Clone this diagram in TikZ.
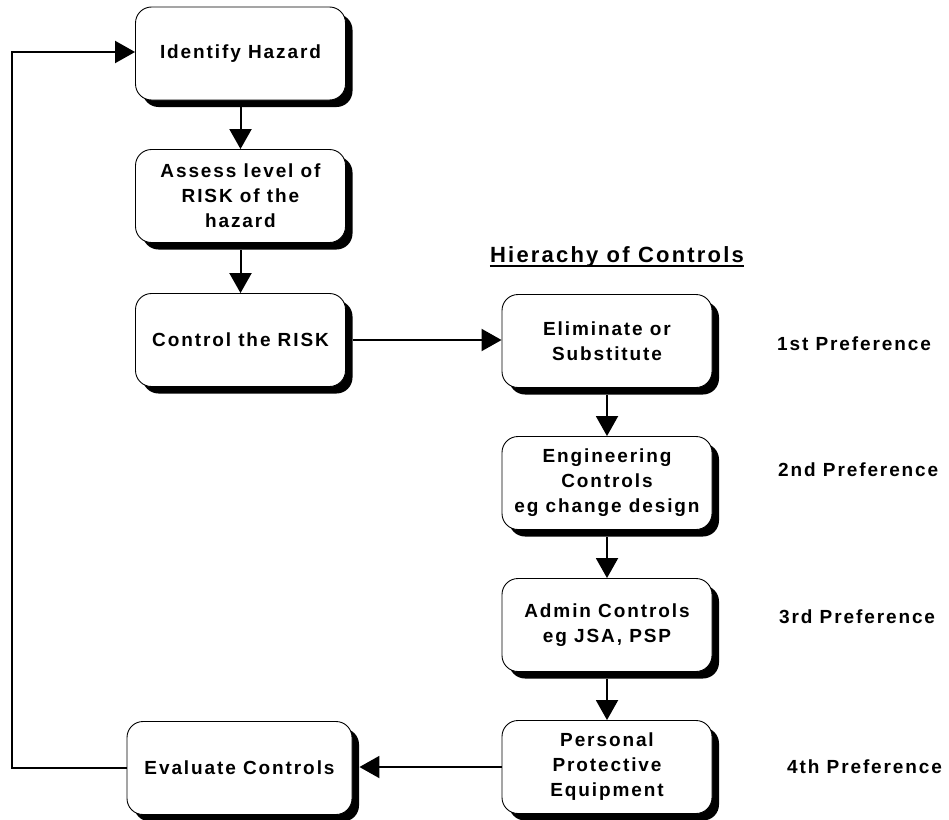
\documentclass[tikz,border=0pt]{standalone}
\usepackage{fontspec}
\setmainfont{Liberation Sans}
\newfontfamily\boxfont[LetterSpace=10]{Liberation Sans}
\usetikzlibrary{arrows.meta,shadows}

\begin{document}
\begin{tikzpicture}[x=1pt,y=-1pt,
  box/.style={draw,line width=0.9pt,rounded corners=16pt,fill=white,
    minimum width=210pt,minimum height=93pt,align=center,inner sep=2pt,
    font=\boxfont\bfseries\fontsize{19}{25}\selectfont,
    drop shadow={shadow xshift=7pt,shadow yshift=-7pt,fill=black,opacity=1}},
  pref/.style={anchor=west,inner sep=0pt,font=\boxfont\bfseries\fontsize{19}{25}\selectfont},
  flow/.style={line width=2pt,-{Triangle[length=20pt,width=22pt]}}]
  \useasboundingbox (0,0) rectangle (949,819);
  % left column
  \node[box] (hazard) at (240.5,53.5) {Identify Hazard};
  \node[box] (assess) at (240.5,196) {Assess level of\\RISK of the\\hazard};
  \node[box] (control) at (240.5,340) {Control the RISK};
  \node[box,minimum width=225pt] (eval) at (239.5,768) {Evaluate Controls};
  % hierarchy
  \node[inner xsep=0pt,anchor=base,font=\boxfont\bfseries\fontsize{22}{25}\selectfont]
    (title) at (617,262) {Hierachy of Controls};
  \draw[line width=2.5pt] ([yshift=-4pt]title.base west) -- ([yshift=-4pt]title.base east);
  \node[box] (elim) at (607,341) {Eliminate or\\Substitute};
  \node[box] (eng) at (607,483) {Engineering\\Controls\\eg change design};
  \node[box] (admin) at (607,625) {Admin Controls\\eg JSA, PSP};
  \node[box] (ppe) at (607,767) {Personal\\Protective\\Equipment};
  \node[pref] (p1) at (777,344) {1st Preference};
  \node[pref] (p2) at (778,470) {2nd Preference};
  \node[pref] (p3) at (779,617) {3rd Preference};
  \node[pref] (p4) at (787,767) {4th Preference};
  % arrows
  \draw[flow] ([yshift=-7pt]hazard.south) -- (assess.north);
  \draw[flow] ([yshift=-7pt]assess.south) -- (control.north);
  \draw[flow] ([xshift=7pt]control.east) -- (control.east -| elim.west);
  \draw[flow] ([yshift=-7pt]elim.south) -- (eng.north);
  \draw[flow] ([yshift=-7pt]eng.south) -- (admin.north);
  \draw[flow] ([yshift=-7pt]admin.south) -- (ppe.north);
  \draw[flow] (ppe.west) -- ([xshift=7pt]eval.east |- ppe.west);
  \coordinate (loop) at (12,768);
  \draw[flow] (eval.west) -- (loop) |- ([yshift=1.5pt]hazard.west);
\end{tikzpicture}
\end{document}
